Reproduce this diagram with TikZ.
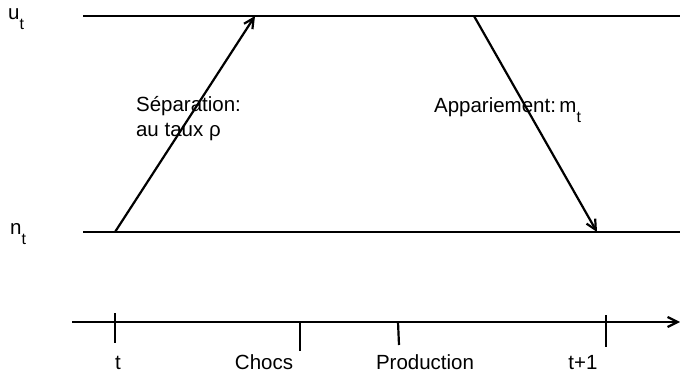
\documentclass[tikz,border=0pt]{standalone}
\usepackage{fontspec}
\setmainfont{Liberation Sans}
\usetikzlibrary{arrows.meta}
\newcommand{\lowsub}[1]{\raisebox{-10pt}{\fontsize{16}{16}\selectfont #1}}

\begin{document}
\begin{tikzpicture}[x=1pt, y=-1pt, line width=2.2pt, >={Straight Barb[length=10pt,width=10pt]},
    lbl/.style={inner sep=0pt, font=\fontsize{20.5}{25}\selectfont}]
    \useasboundingbox (0,0) rectangle (680,377);

    % niveaux u_t et n_t
    \coordinate (uL) at (83,16);
    \coordinate (uR) at (680,16);
    \coordinate (nL) at (83,232);
    \coordinate (nR) at (680,232);
    \draw (uL) -- (uR);
    \draw (nL) -- (nR);
    \node[lbl, anchor=base west] (ulab) at (7,20) {u\lowsub{t}};
    \node[lbl, anchor=base west] (nlab) at (9,234) {n\lowsub{t}};

    % flux entre les deux etats
    \coordinate (sepA) at (115,232);
    \coordinate (sepB) at (255,16);
    \coordinate (appA) at (474,16);
    \coordinate (appB) at (597,232);
    \draw[->] (sepA) -- (sepB);
    \draw[->] (appA) -- (appB);
    \node[lbl, anchor=north west, align=left] (sep) at (135,95) {Séparation:\\au taux ρ};
    \node[lbl, anchor=base west] (app) at (433,113) {Appariement:\,m\lowsub{t}};

    % axe du temps
    \coordinate (axL) at (72,322);
    \coordinate (axR) at (680,322);
    \draw[->] (axL) -- (axR);
    \draw (115,313) -- (115,343); % t
    \draw (300,322) -- (300,351); % chocs
    \draw (398,322) -- (399,345); % production
    \draw (606,315) -- (606,347); % t+1
    \node[lbl, anchor=base] (tlab) at (118,369) {t};
    \node[lbl, anchor=base] (choc) at (264,369) {Chocs};
    \node[lbl, anchor=base] (prod) at (425,369) {Production};
    \node[lbl, anchor=base] (tnext) at (583,369) {t+1};
\end{tikzpicture}
\end{document}
